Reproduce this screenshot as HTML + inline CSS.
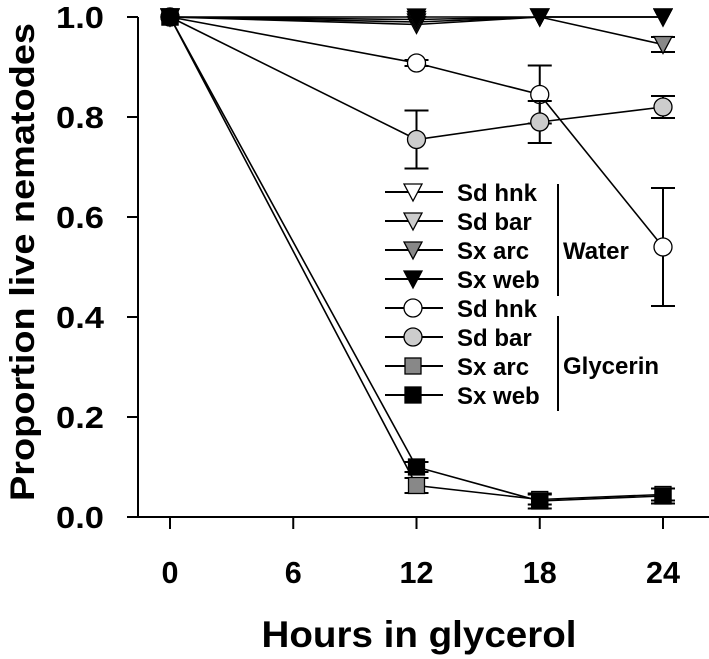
<!DOCTYPE html>
<html><head><meta charset="utf-8"><style>
body{margin:0;background:#fff;}
svg{display:block;font-family:"Liberation Sans",Arial,sans-serif;font-weight:bold;}
</style></head><body>
<svg id="chart" width="709" height="659" viewBox="0 0 709 659">
<g id="axes"></g><g id="series"></g><g id="legend"></g>
</svg>
<script>
const hours = [0, 12, 18, 24];
const xTicks = [0, 6, 12, 18, 24];
const yTicks = [0.0, 0.2, 0.4, 0.6, 0.8, 1.0];
const seriesNames = ["Sd hnk","Sd bar","Sx arc","Sx web","Sd hnk","Sd bar","Sx arc","Sx web"];
const wSdHnk = [1, 0.985, 1, 1];
const wSdBar = [1, 0.99, 1, 1];
const wSxArc = [1, 0.995, 1, 0.945];
const wSxArcErr = [0, 0, 0, 0.015];
const wSxWeb = [1, 1, 1, 1];
const gSdHnk = [1, 0.908, 0.845, 0.54];
const gSdHnkErr = [0, 0.006, 0.058, 0.118];
const gSdBar = [1, 0.755, 0.79, 0.82];
const gSdBarErr = [0, 0.058, 0.042, 0.022];
const gSxArc = [1, 0.063, 0.035, 0.045];
const gSxArcErr = [0, 0.015, 0.01, 0.012];
const gSxWeb = [1, 0.10, 0.032, 0.042];
const gSxWebErr = [0, 0.01, 0.015, 0.015];

const NS="http://www.w3.org/2000/svg";
const X=h=>170+h*(663-170)/24;
const Y=v=>517-v*500;
function mk(tag,parent,attrs){const e=document.createElementNS(NS,tag);for(const k in attrs)e.setAttribute(k,attrs[k]);parent.appendChild(e);return e;}
const axes=document.getElementById('axes'),ser=document.getElementById('series'),leg=document.getElementById('legend');

let e=mk('line',axes,{x1:138,y1:Y(1),x2:138,y2:517,stroke:'#000','stroke-width':2});


e=mk('line',axes,{x1:128,y1:517,x2:709,y2:517,stroke:'#000','stroke-width':2});


yTicks.forEach(v=>{
  mk('line',axes,{x1:127,y1:Y(v),x2:138,y2:Y(v),stroke:'#000','stroke-width':2});
  const t=mk('text',axes,{x:104,y:Y(v)+11,'text-anchor':'end','font-size':31,textLength:48,lengthAdjust:'spacingAndGlyphs'});
  t.textContent=v.toFixed(1);
  
  
});
xTicks.forEach(h=>{
  mk('line',axes,{x1:X(h),y1:517,x2:X(h),y2:529,stroke:'#000','stroke-width':2});
  const s=String(h);
  const t=mk('text',axes,{x:X(h),y:583,'text-anchor':'middle','font-size':31,textLength:s.length*17,lengthAdjust:'spacingAndGlyphs'});
  t.textContent=s;
  
  
});
e=mk('text',axes,{x:419,y:647,'text-anchor':'middle','font-size':37,textLength:315,lengthAdjust:'spacingAndGlyphs'});
e.textContent='Hours in glycerol';


e=mk('text',axes,{x:0,y:0,'text-anchor':'middle','font-size':34,textLength:478,lengthAdjust:'spacingAndGlyphs',transform:'translate(34,262) rotate(-90)'});
e.textContent='Proportion live nematodes';



function marker(g,shape,fill,cx,cy){
  if(shape==='tri') return mk('polygon',g,{points:`${cx-9},${cy-8} ${cx+9},${cy-8} ${cx},${cy+9}`,fill:fill,stroke:'#000','stroke-width':1.3});
  if(shape==='circ') return mk('circle',g,{cx:cx,cy:cy,r:9,fill:fill,stroke:'#000','stroke-width':1.3});
  return mk('rect',g,{x:cx-8,y:cy-8,width:16,height:16,fill:fill,stroke:'#000','stroke-width':1.3});
}
const defs=[
 ['water-sd-hnk',wSdHnk,null,'tri','#fff'],
 ['water-sd-bar',wSdBar,null,'tri','#ccc'],
 ['water-sx-arc',wSxArc,wSxArcErr,'tri','#888'],
 ['water-sx-web',wSxWeb,null,'tri','#000'],
 ['glycerin-sd-hnk',gSdHnk,gSdHnkErr,'circ','#fff'],
 ['glycerin-sd-bar',gSdBar,gSdBarErr,'circ','#ccc'],
 ['glycerin-sx-arc',gSxArc,gSxArcErr,'sq','#888'],
 ['glycerin-sx-web',gSxWeb,gSxWebErr,'sq','#000']
];
defs.forEach(([name,vals,err,shape,fill])=>{
  const g=mk('g',ser,{});
  
  
  const l=mk('polyline',g,{points:vals.map((v,i)=>X(hours[i])+','+Y(v)).join(' '),fill:'none',stroke:'#000','stroke-width':1.6});
  
  
  if(err) vals.forEach((v,i)=>{
    if(!err[i]) return;
    const x=X(hours[i]),y1=Y(v+err[i]),y2=Y(v-err[i]);
    const eb=mk('path',g,{d:`M${x},${y1}V${y2}M${x-12},${y1}H${x+12}M${x-12},${y2}H${x+12}`,stroke:'#000','stroke-width':2,fill:'none'});
    
    
  });
  vals.forEach((v,i)=>{
    const m=marker(g,shape,fill,X(hours[i]),Y(v));
    
    
  });
});

defs.forEach(([name,vals,err,shape,fill],i)=>{
  const y=192+i*29;
  const g=mk('g',leg,{});
  
  
  mk('line',g,{x1:385,y1:y,x2:443,y2:y,stroke:'#000','stroke-width':2});
  marker(g,shape,fill,413,y);
  const t=mk('text',g,{x:457,y:y+9,'font-size':24});
  t.textContent=seriesNames[i];
});
mk('line',leg,{x1:558,y1:184,x2:558,y2:296,stroke:'#000','stroke-width':2});
mk('line',leg,{x1:558,y1:316,x2:558,y2:411,stroke:'#000','stroke-width':2});
e=mk('text',leg,{x:563,y:259,'font-size':24});e.textContent='Water';


e=mk('text',leg,{x:563,y:374,'font-size':24});e.textContent='Glycerin';


</script>
</body></html>
